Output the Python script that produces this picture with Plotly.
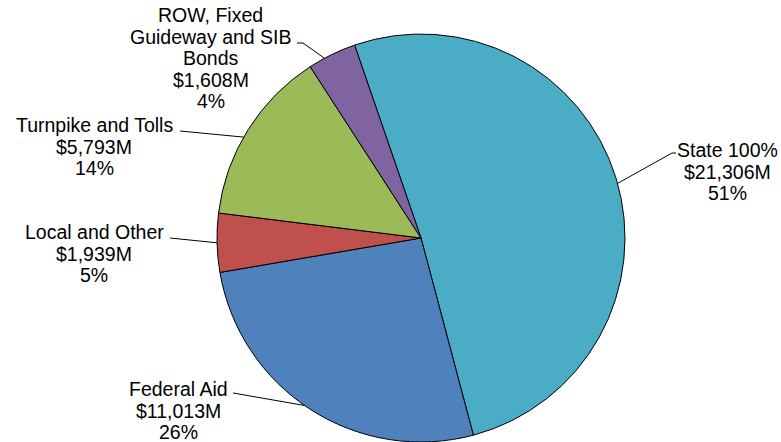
import plotly.graph_objects as go

categories = ["State 100%", "Federal Aid", "Local and Other", "Turnpike and Tolls",
              "ROW, Fixed Guideway and SIB Bonds"]
values_m = [21306, 11013, 1939, 5793, 1608]
pct_labels = ["51%", "26%", "5%", "14%", "4%"]
colors = ["#4BACC6", "#4F81BD", "#C0504D", "#9BBB59", "#8064A2"]

W, H = 781, 442
cx, cy, r = 421, 238, 204

fig = go.Figure(go.Pie(
    labels=categories, values=values_m, sort=False, direction="clockwise",
    rotation=-19, textinfo="none", hoverinfo="label+value+percent",
    marker=dict(colors=colors, line=dict(color="#000000", width=1)),
    domain=dict(x=[(cx - r) / W, (cx + r) / W], y=[(H - cy - r) / H, (H - cy + r) / H]),
    showlegend=False,
))

def money(v):
    return "${:,}M".format(v)

label_lines = {
    0: ["State 100%", money(values_m[0]), pct_labels[0]],
    1: ["Federal Aid", money(values_m[1]), pct_labels[1]],
    2: ["Local and Other", money(values_m[2]), pct_labels[2]],
    3: ["Turnpike and Tolls", money(values_m[3]), pct_labels[3]],
    4: ["ROW, Fixed", "Guideway and SIB", "Bonds", money(values_m[4]), pct_labels[4]],
}
# layout: (x center px, first line y px)
label_pos = {0: (727, 150), 1: (178, 389), 2: (94, 232), 3: (94, 125), 4: (211, 15)}
line_gap = 21.6

annotations = []
for i, lines in label_lines.items():
    x0, y0 = label_pos[i]
    for k, t in enumerate(lines):
        annotations.append(dict(
            x=x0 / W, y=1 - (y0 + k * line_gap) / H, xref="paper", yref="paper",
            text=t, showarrow=False, xanchor="center", yanchor="middle",
            font=dict(family="Liberation Sans, Arial, sans-serif", size=19.5, color="#000000"),
        ))

# leader line paths (pixel coords)
leaders = [
    [(676, 153), (672, 153), (617.6, 183.4)],
    [(297, 43), (303, 43), (324.4, 58.2)],
    [(180, 131), (243.7, 137.1)],
    [(170, 238), (217, 242.8)],
    [(233, 393), (304.6, 405.5)],
]
shapes = []
for pts in leaders:
    path = "M " + " L ".join("{:.4f},{:.4f}".format(x / W, 1 - y / H) for x, y in pts)
    shapes.append(dict(type="path", path=path, xref="paper", yref="paper",
                       line=dict(color="#000000", width=1)))

fig.update_layout(
    width=W, height=H, margin=dict(l=0, r=0, t=0, b=0),
    paper_bgcolor="#FFFFFF", plot_bgcolor="#FFFFFF",
    annotations=annotations, shapes=shapes,
)

fig.write_html("out.html", config={"displayModeBar": False},
               post_script="document.body.style.margin='0px';")
